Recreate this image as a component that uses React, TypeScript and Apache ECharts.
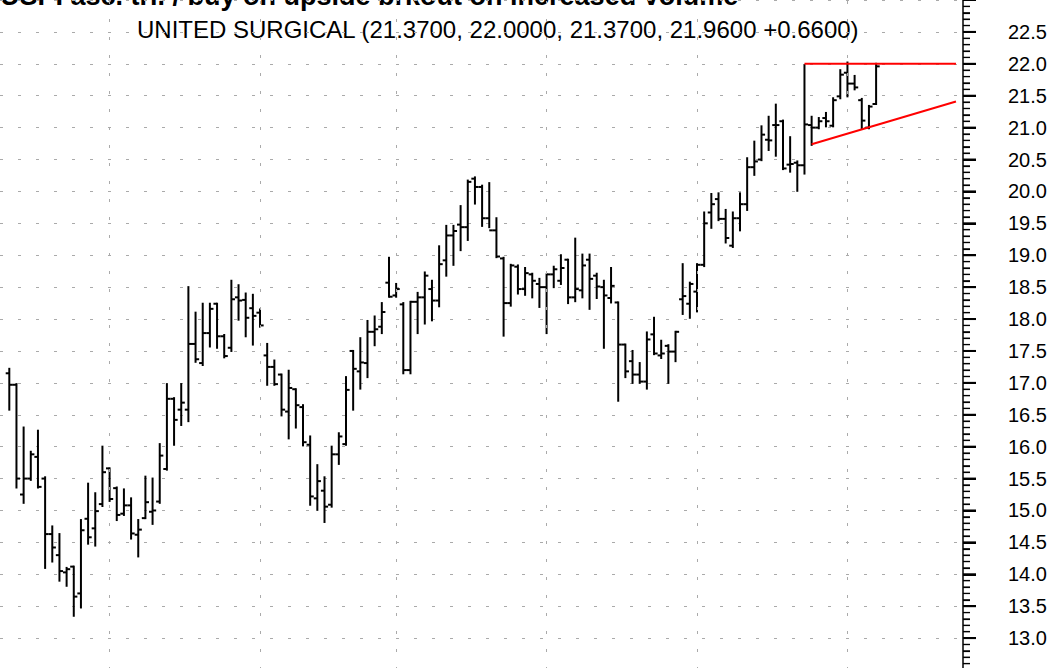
import React, { useEffect, useRef } from "react";
import * as echarts from "echarts";

// OHLC bars, one per trading day (index 0 = leftmost bar)
const opens = [
  17.15, 16.97, 15.25, 15.5, 15.84, 15.5, 14.63, 14.3, 14.03, 14.12,
  13.7, 14.87, 14.72, 15.1, 15.66, 15.35, 14.95, 15.08, 14.62, 14.88,
  14.98, 15.14, 15.65, 16.75, 16.58, 16.58, 17.61, 17.31, 17.78, 18.24,
  17.73, 17.55, 18.34, 18.3, 18.17, 18.1, 17.43, 17.25, 17.13, 16.55,
  16.9, 16.62, 16.03, 15.19, 15.31, 15.09, 15.88, 16.04, 17.5, 17.18,
  17.31, 17.8, 17.88, 18.57, 18.37, 18.23, 17.2, 18.27, 18.34, 18.47,
  18.29, 18.92, 19.31, 19.48, 19.44, 20.2, 20.07, 19.58, 19.39, 18.95,
  18.25, 18.82, 18.47, 18.7, 18.55, 18.5, 18.7, 18.6, 18.93, 18.34,
  18.45, 18.93, 18.68, 18.5, 18.33, 18.26, 17.6, 17.34, 17.13, 17.02,
  17.76, 17.43, 17.58, 17.49, 18.31, 18.24, 18.43, 18.85, 19.67, 19.88,
  19.57, 19.15, 19.58, 19.8, 20.38, 20.5, 20.81, 21.04, 21.1, 20.42,
  20.45, 20.41, 21.04, 21.0, 21.15, 21.03, 21.49, 21.86, 21.69, 21.43,
  21.0, 21.37,
];
const highs = [
  17.22, 16.98, 16.3, 15.92, 16.25, 15.52, 14.75, 14.63, 14.1, 14.12,
  14.85, 15.42, 15.27, 16.0, 15.66, 15.36, 15.33, 15.19, 14.85, 15.53,
  15.5, 16.04, 16.98, 16.76, 16.98, 18.5, 18.1, 18.24, 18.24, 18.24,
  17.75, 18.6, 18.53, 18.4, 18.38, 18.15, 17.61, 17.35, 17.13, 17.19,
  16.9, 16.65, 16.16, 15.71, 15.52, 16.0, 16.21, 17.09, 17.5, 17.7,
  17.97, 18.04, 18.25, 18.96, 18.55, 18.25, 18.27, 18.41, 18.73, 18.6,
  19.14, 19.46, 19.46, 19.77, 20.17, 20.22, 20.09, 20.13, 19.58, 18.96,
  18.85, 18.84, 18.8, 18.71, 18.63, 18.7, 18.82, 19.0, 18.93, 19.26,
  19.01, 19.01, 18.71, 18.6, 18.8, 18.26, 17.6, 17.5, 17.31, 17.79,
  18.02, 17.66, 17.59, 17.8, 18.86, 18.57, 18.86, 19.67, 19.96, 19.97,
  19.71, 19.67, 19.97, 20.52, 20.78, 21.02, 21.17, 21.36, 21.11, 20.85,
  20.47, 21.98, 21.17, 21.15, 21.23, 21.46, 21.9, 22.02, 21.81, 21.45,
  21.34, 22.0,
];
const lows = [
  16.58, 15.36, 15.12, 15.48, 15.36, 14.1, 14.2, 13.9, 13.82, 13.35,
  13.48, 14.48, 14.45, 15.07, 15.15, 14.85, 14.93, 14.56, 14.28, 14.88,
  14.79, 15.12, 15.64, 16.03, 16.34, 16.4, 17.33, 17.28, 17.57, 17.55,
  17.4, 17.5, 17.99, 17.73, 17.6, 17.88, 16.97, 16.97, 16.49, 16.13,
  16.3, 16.02, 15.09, 15.01, 14.82, 15.06, 15.73, 16.03, 16.58, 16.91,
  17.09, 17.59, 17.78, 18.35, 18.35, 17.15, 17.15, 17.78, 17.93, 17.98,
  18.2, 18.68, 18.85, 19.08, 19.24, 19.81, 19.46, 19.44, 18.97, 17.74,
  18.21, 18.4, 18.38, 18.34, 18.19, 17.78, 18.5, 18.55, 18.25, 18.28,
  18.34, 18.16, 18.33, 17.55, 18.26, 16.72, 17.09, 17.0, 17.0, 16.91,
  17.45, 17.39, 17.0, 17.34, 18.08, 18.02, 18.12, 18.83, 19.43, 19.55,
  19.2, 19.13, 19.39, 19.71, 20.26, 20.49, 20.65, 20.56, 20.35, 20.31,
  20.01, 20.28, 20.73, 20.99, 21.02, 21.02, 21.46, 21.49, 21.6, 20.99,
  20.99, 21.37,
];
const closes = [
  16.97, 15.5, 15.5, 15.88, 15.37, 14.63, 14.42, 14.05, 14.08, 13.65,
  14.69, 14.58, 14.99, 15.6, 15.18, 14.93, 15.08, 14.64, 14.7, 15.13,
  15.0, 15.86, 16.75, 16.42, 16.69, 17.61, 17.37, 17.78, 18.16, 17.73,
  17.42, 18.31, 18.29, 18.02, 18.05, 17.9, 17.25, 16.98, 16.58, 16.92,
  16.65, 16.07, 15.22, 15.46, 15.06, 15.88, 16.16, 16.89, 17.22, 17.32,
  17.8, 17.84, 18.11, 18.35, 18.47, 17.2, 18.27, 18.34, 18.68, 18.29,
  18.86, 19.31, 19.38, 19.44, 20.15, 20.07, 19.58, 19.39, 18.98, 18.25,
  18.84, 18.47, 18.72, 18.6, 18.5, 18.7, 18.78, 18.8, 18.34, 18.47,
  18.84, 18.63, 18.51, 18.37, 18.52, 17.6, 17.18, 17.13, 17.02, 17.68,
  17.46, 17.46, 17.49, 17.8, 18.36, 18.55, 18.85, 19.5, 19.8, 19.57,
  19.27, 19.58, 19.8, 20.38, 20.47, 20.89, 20.8, 21.04, 20.36, 20.43,
  20.41, 21.05, 21.0, 21.1, 21.1, 21.43, 21.83, 21.69, 21.63, 21.11,
  21.33, 21.96,
];

// first bar of each month (vertical grid lines)
const monthStarts = [14, 35, 54, 75, 96, 117];

// trend lines drawn on the chart: [bar index, price]
const resistanceLine = [
  [111, 22.0],
  [132.15, 22.0],
];
const supportLine = [
  [112, 20.74],
  [132.15, 21.41],
];

// price axis
const priceMin = 12.5;
const priceMax = 23.0;
const labelMin = 13.0;
const labelMax = 22.5;
// ruler ticks on the price axis, in tenths of a dollar (12.5 .. 23.0)
const rulerTenths: number[] = [];
for (let t = 125; t <= 230; t++) rulerTenths.push(t);

const xMin = -1.298;
const xMax = 133.13;

const titleText = "USPI asc. tri. / buy on upside brkout on increased volume";
const subtitleText =
  "UNITED SURGICAL (21.3700, 22.0000, 21.3700, 21.9600 +0.6600)";

const FONT = '"Liberation Sans", Arial, Helvetica, sans-serif';

export default function App() {
  const ref = useRef<HTMLDivElement>(null);

  useEffect(() => {
    if (!ref.current) return;
    const chart = echarts.init(ref.current, null, { renderer: "svg" });
    const ohlc = opens.map((o, i) => [i, o, highs[i], lows[i], closes[i]]);

    const titleEls = [
      {
        type: "text",
        x: 0,
        y: -4.5,
        silent: true,
        style: {
          text: titleText,
          fill: "#000",
          font: `bold 27px ${FONT}`,
          textVerticalAlign: "middle",
        },
      },
      {
        type: "text",
        x: 137,
        y: 29.3,
        silent: true,
        style: {
          text: subtitleText,
          fill: "#000",
          font: `24px ${FONT}`,
          textVerticalAlign: "middle",
        },
      },
    ];

    chart.setOption({
      animation: false,
      backgroundColor: "#ffffff",
      grid: {
        left: 0,
        right: 98,
        top: 0,
        bottom: 0,
        outerBoundsMode: "none",
        containLabel: false,
      },
      xAxis: {
        type: "value",
        min: xMin,
        max: xMax,
        show: false,
      },
      yAxis: {
        type: "value",
        position: "right",
        min: priceMin,
        max: priceMax,
        interval: 0.5,
        axisLine: {
          show: true,
          onZero: false,
          lineStyle: { color: "#000", width: 1.5 },
        },
        axisTick: {
          show: true,
          inside: false,
          length: 13,
          lineStyle: { color: "#000", width: 2 },
        },
        minorTick: {
          show: true,
          splitNumber: 5,
          length: 7,
          lineStyle: { color: "#000", width: 1.2 },
        },
        splitLine: {
          show: true,
          lineStyle: { color: "#aaaaaa", width: 1, type: [3, 15] },
        },
        axisLabel: {
          show: true,
          margin: 45,
          color: "#000",
          fontSize: 20,
          fontFamily: FONT,
          formatter: (v: number) =>
            v < labelMin - 0.01 || v > labelMax + 0.01 ? "" : v.toFixed(1),
        },
      },
      series: [
        {
          type: "custom",
          data: ohlc,
          encode: { x: 0, y: [1, 2, 3, 4] },
          clip: false,
          renderItem: (params: any, api: any) => {
            const x = api.value(0);
            const o = api.coord([x, api.value(1)]);
            const h = api.coord([x, api.value(2)]);
            const l = api.coord([x, api.value(3)]);
            const c = api.coord([x, api.value(4)]);
            const t = 3.6;
            const style = { stroke: "#000", lineWidth: 2, fill: null };
            return {
              type: "group",
              children: [
                {
                  type: "line",
                  shape: { x1: h[0], y1: h[1] - 1, x2: l[0], y2: l[1] + 1 },
                  style,
                },
                {
                  type: "line",
                  shape: { x1: o[0] - t, y1: o[1], x2: o[0], y2: o[1] },
                  style,
                },
                {
                  type: "line",
                  shape: { x1: c[0], y1: c[1], x2: c[0] + t, y2: c[1] },
                  style,
                },
              ],
            };
          },
          markLine: {
            silent: true,
            symbol: "none",
            label: { show: false },
            lineStyle: { color: "#aaaaaa", width: 1, type: [3, 15] },
            data: monthStarts.map((m) => ({ xAxis: m })),
          },
        },
        {
          type: "line",
          data: resistanceLine,
          symbol: "none",
          silent: true,
          clip: false,
          lineStyle: { color: "#ff0000", width: 2 },
        },
        {
          type: "line",
          data: supportLine,
          symbol: "none",
          silent: true,
          clip: false,
          lineStyle: { color: "#ff0000", width: 2 },
        },
      ],
      graphic: titleEls,
    });

    // ruler ticks on the price axis, placed through the chart's own scale
    const rulerEls = rulerTenths.map((t) => {
      const p = chart.convertToPixel({ xAxisIndex: 0, yAxisIndex: 0 }, [
        xMax,
        t / 10,
      ]) as number[];
      const major = t % 5 === 0;
      return {
        type: "line",
        silent: true,
        z: 100,
        shape: {
          x1: p[0],
          y1: p[1],
          x2: p[0] + (major ? 13 : 7),
          y2: p[1],
        },
        style: { stroke: "#000", lineWidth: major ? 2 : 1.2 },
      };
    });
    chart.setOption({ graphic: [...titleEls, ...rulerEls] });

    return () => chart.dispose();
  }, []);

  return (
    <div
      ref={ref}
      style={{
        position: "fixed",
        left: 0,
        top: 0,
        width: 1061,
        height: 670,
        background: "#fff",
      }}
    />
  );
}
